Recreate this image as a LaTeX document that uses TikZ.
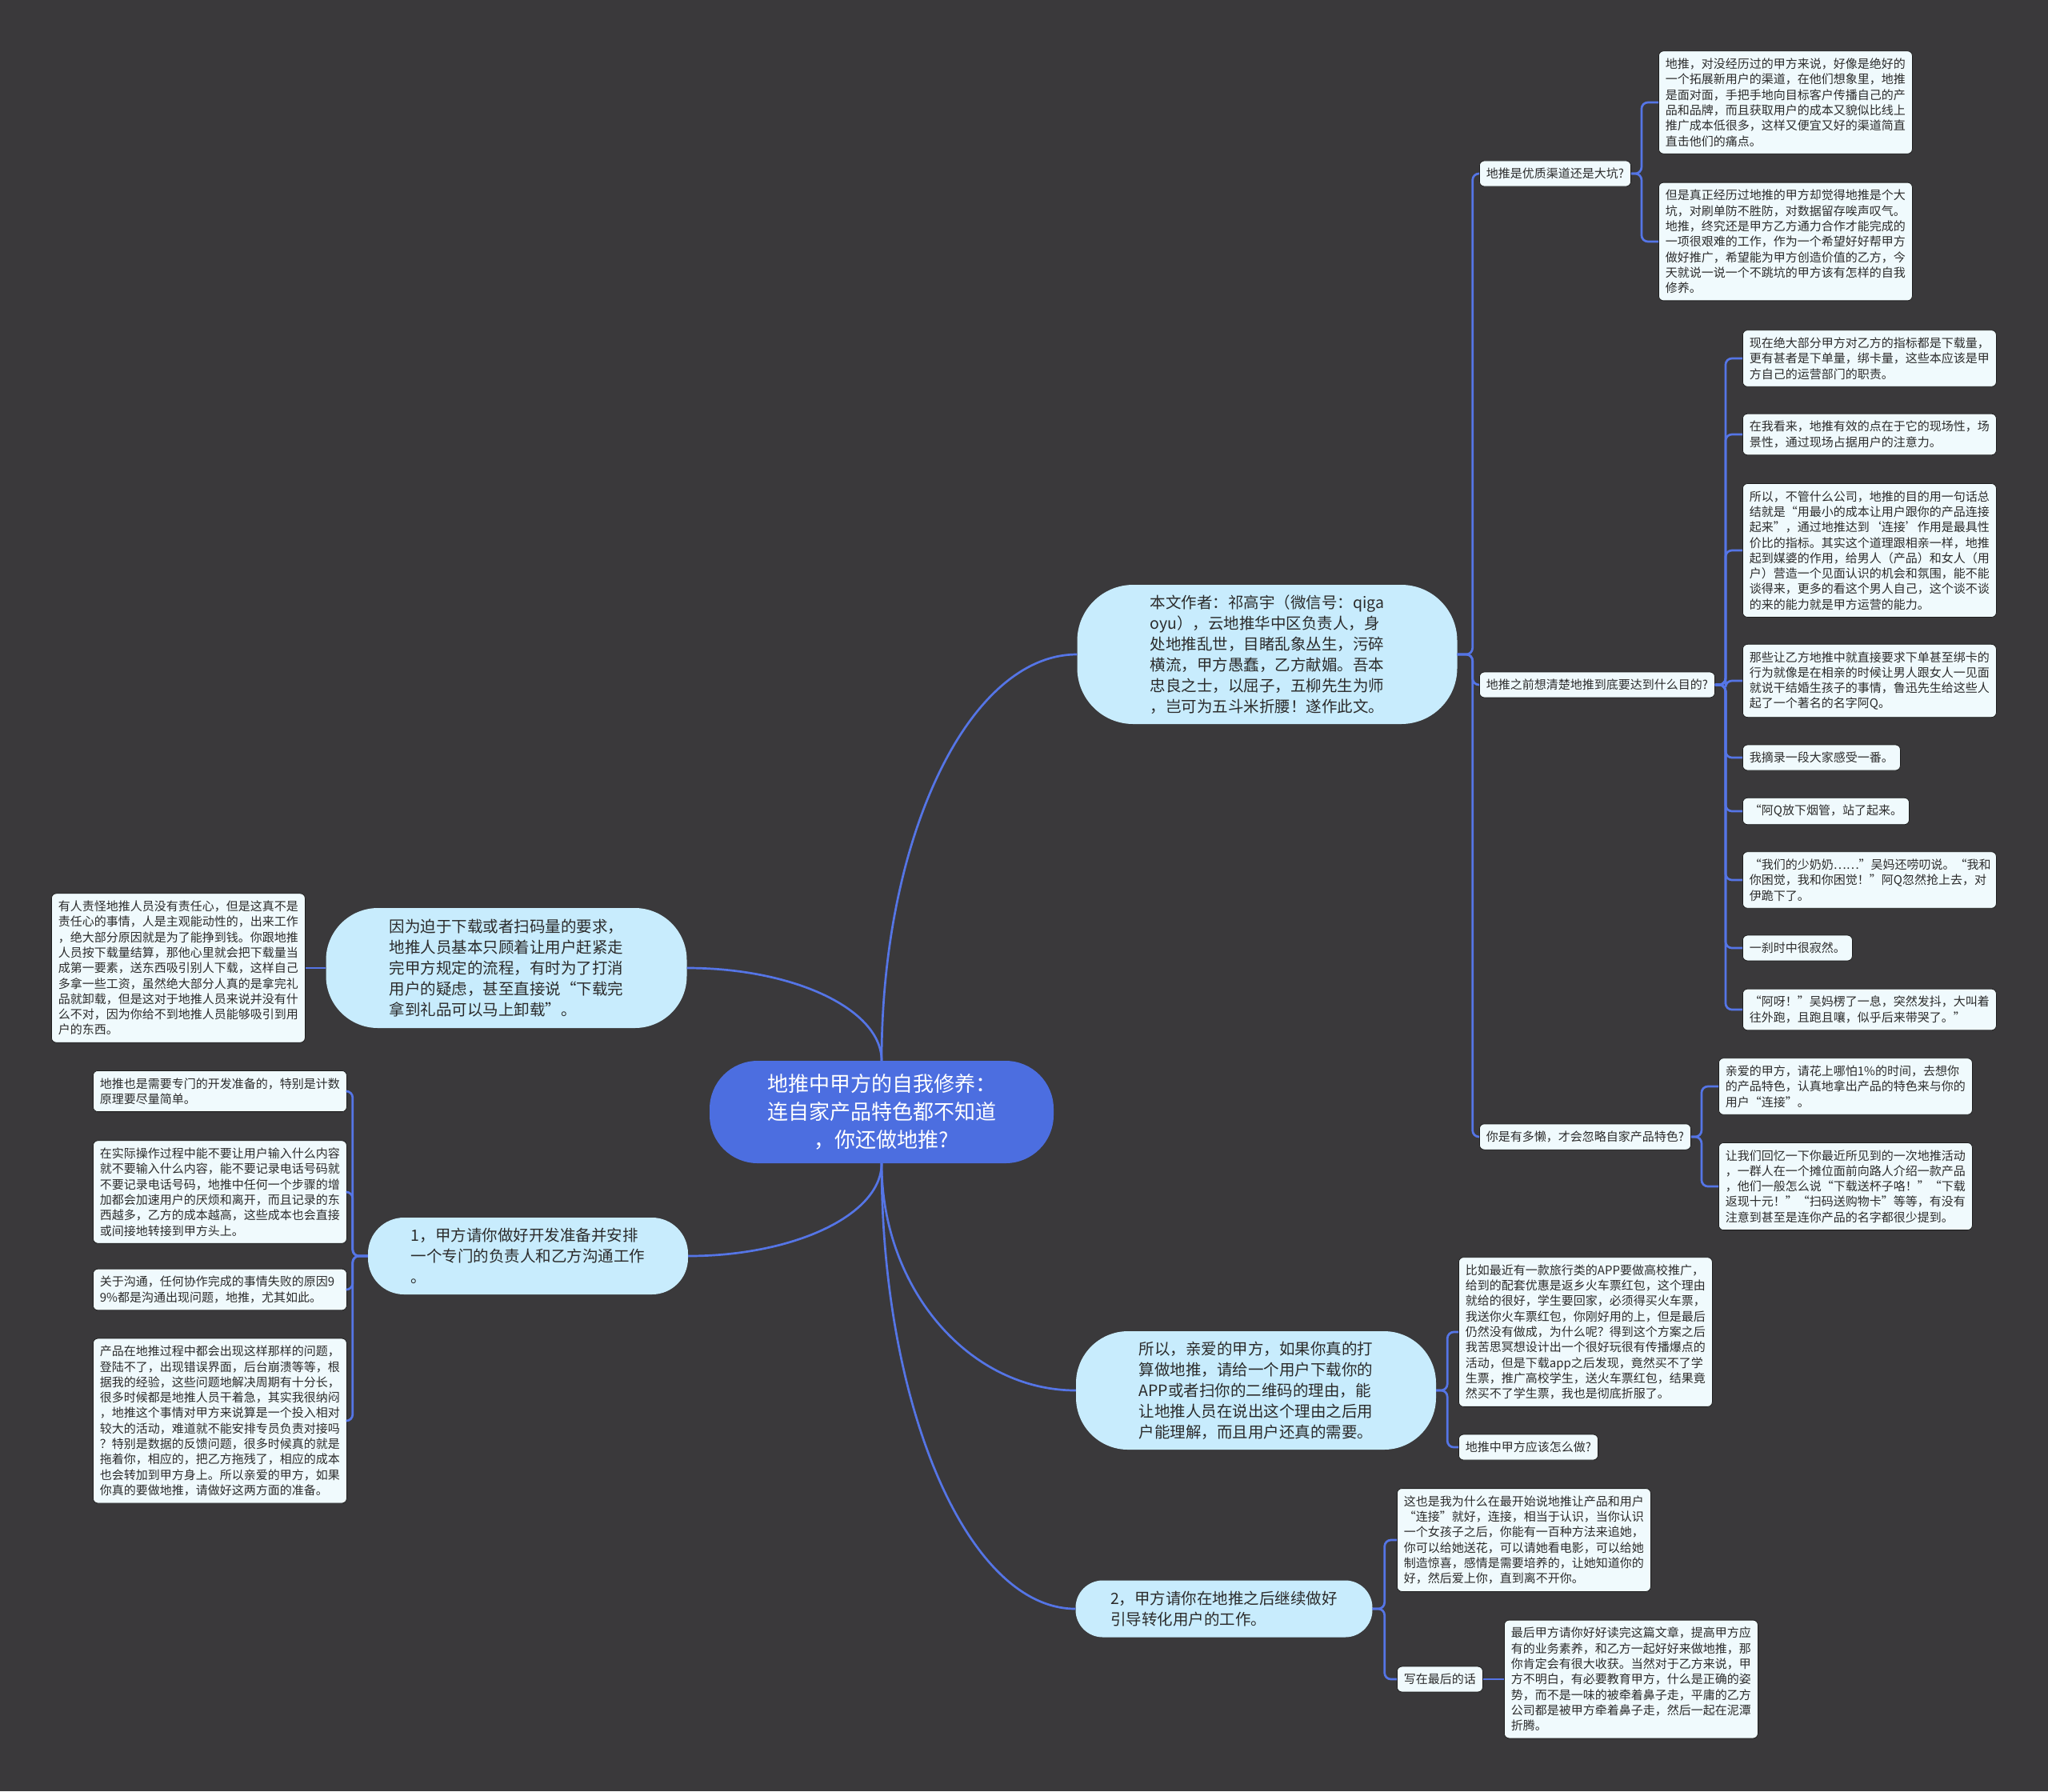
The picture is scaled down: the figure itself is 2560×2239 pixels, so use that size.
\documentclass[tikz,border=0pt]{standalone}
\usepackage{fontspec}
\setmainfont{Noto Sans CJK SC}

\definecolor{bgcol}{HTML}{3A393B}
\definecolor{linkcol}{HTML}{5575E6}
\definecolor{rootfill}{HTML}{4C6EE0}
\definecolor{pillfill}{HTML}{C8ECFD}
\definecolor{leaffill}{HTML}{F0FAFD}
\definecolor{leafline}{HTML}{1E1E1E}
\definecolor{inktext}{HTML}{2B2B2B}

\tikzset{
  link/.style={draw=linkcol, line width=2.7pt, rounded corners=8pt},
  root/.style={fill=rootfill, text=white, rounded corners=60pt, align=center,
    inner sep=0pt, minimum width=430pt, minimum height=128pt,
    font=\fontsize{26}{35}\selectfont},
  pill/.style={fill=pillfill, text=inktext, rounded corners=#1, align=left,
    inner sep=0pt, font=\fontsize{19.5}{26}\selectfont},
  leaf/.style={draw=leafline, line width=0.8pt, fill=leaffill, text=inktext,
    rounded corners=6pt, anchor=west, align=left, inner xsep=8.5pt,
    inner ysep=9pt, font=\fontsize{15}{19.3}\selectfont},
  wide/.style={leaf, text width=300pt},
}

\begin{document}
\begin{tikzpicture}[x=1pt, y=-1pt]
    \fill[bgcol] (0,0) rectangle (2560,2239);
    \useasboundingbox (0,0) rectangle (2560,2239);

    % Root
    \node[root] (root) at (1102,1390)
        {地推中甲方的自我修养：\\连自家产品特色都不知道\\，你还做地推?};

    % Main branches
    \node[pill=70pt, minimum width=475pt, minimum height=174pt] (intro) at (1584,818)
        {本文作者：祁高宇（微信号：qiga\\oyu），云地推华中区负责人，身\\处地推乱世，目睹乱象丛生，污碎\\横流，甲方愚蠢，乙方献媚。吾本\\忠良之士，以屈子，五柳先生为师\\，岂可为五斗米折腰！遂作此文。};
    \node[pill=65pt, minimum width=451pt, minimum height=150pt] (reason) at (633,1210)
        {因为迫于下载或者扫码量的要求，\\地推人员基本只顾着让用户赶紧走\\完甲方规定的流程，有时为了打消\\用户的疑虑，甚至直接说“下载完\\拿到礼品可以马上卸载”。};
    \node[pill=45pt, minimum width=400pt, minimum height=96pt] (prep) at (660,1570)
        {1，甲方请你做好开发准备并安排\\一个专门的负责人和乙方沟通工作\\。};
    \node[pill=65pt, minimum width=450pt, minimum height=148pt] (clue) at (1570,1738)
        {所以，亲爱的甲方，如果你真的打\\算做地推，请给一个用户下载你的\\APP或者扫你的二维码的理由，能\\让地推人员在说出这个理由之后用\\户能理解，而且用户还真的需要。};
    \node[pill=34pt, minimum width=371pt, minimum height=71pt] (follow) at (1530,2011)
        {2，甲方请你在地推之后继续做好\\引导转化用户的工作。};

    % Questions
    \node[leaf] (q1) at (1849,217) {地推是优质渠道还是大坑?};
    \node[leaf] (q2) at (1849,856) {地推之前想清楚地推到底要达到什么目的?};
    \node[leaf] (q3) at (1849,1421) {你是有多懒，才会忽略自家产品特色?};

    % Leaves of q1
    \node[wide] (t1) at (2073,128)
        {地推，对没经历过的甲方来说，好像是绝好的\\一个拓展新用户的渠道，在他们想象里，地推\\是面对面，手把手地向目标客户传播自己的产\\品和品牌，而且获取用户的成本又貌似比线上\\推广成本低很多，这样又便宜又好的渠道简直\\直击他们的痛点。};
    \node[wide] (t2) at (2073,302)
        {但是真正经历过地推的甲方却觉得地推是个大\\坑，对刷单防不胜防，对数据留存唉声叹气。\\地推，终究还是甲方乙方通力合作才能完成的\\一项很艰难的工作，作为一个希望好好帮甲方\\做好推广，希望能为甲方创造价值的乙方，今\\天就说一说一个不跳坑的甲方该有怎样的自我\\修养。};

    % Leaves of q2
    \node[wide] (b1) at (2178,448)
        {现在绝大部分甲方对乙方的指标都是下载量，\\更有甚者是下单量，绑卡量，这些本应该是甲\\方自己的运营部门的职责。};
    \node[wide] (b2) at (2178,543)
        {在我看来，地推有效的点在于它的现场性，场\\景性，通过现场占据用户的注意力。};
    \node[wide] (b3) at (2178,688)
        {所以，不管什么公司，地推的目的用一句话总\\结就是“用最小的成本让用户跟你的产品连接\\起来”，通过地推达到‘连接’作用是最具性\\价比的指标。其实这个道理跟相亲一样，地推\\起到媒婆的作用，给男人（产品）和女人（用\\户）营造一个见面认识的机会和氛围，能不能\\谈得来，更多的看这个男人自己，这个谈不谈\\的来的能力就是甲方运营的能力。};
    \node[wide] (b4) at (2178,851)
        {那些让乙方地推中就直接要求下单甚至绑卡的\\行为就像是在相亲的时候让男人跟女人一见面\\就说干结婚生孩子的事情，鲁迅先生给这些人\\起了一个著名的名字阿Q。};
    \node[leaf] (b5) at (2178,947) {我摘录一段大家感受一番。};
    \node[leaf] (b6) at (2178,1014) {“阿Q放下烟管，站了起来。};
    \node[wide] (b7) at (2178,1100)
        {“我们的少奶奶……”吴妈还唠叨说。“我和\\你困觉，我和你困觉！”阿Q忽然抢上去，对\\伊跪下了。};
    \node[leaf] (b8) at (2178,1185) {一刹时中很寂然。};
    \node[wide] (b9) at (2178,1262)
        {“阿呀！”吴妈楞了一息，突然发抖，大叫着\\往外跑，且跑且嚷，似乎后来带哭了。”};

    % Leaves of q3
    \node[wide] (c1) at (2148,1358)
        {亲爱的甲方，请花上哪怕1\%的时间，去想你\\的产品特色，认真地拿出产品的特色来与你的\\用户“连接”。};
    \node[wide] (c2) at (2148,1483)
        {让我们回忆一下你最近所见到的一次地推活动\\，一群人在一个摊位面前向路人介绍一款产品\\，他们一般怎么说“下载送杯子咯！”“下载\\返现十元！”“扫码送购物卡”等等，有没有\\注意到甚至是连你产品的名字都很少提到。};

    % Leaves of clue
    \node[wide] (d1) at (1823,1665)
        {比如最近有一款旅行类的APP要做高校推广，\\给到的配套优惠是返乡火车票红包，这个理由\\就给的很好，学生要回家，必须得买火车票，\\我送你火车票红包，你刚好用的上，但是最后\\仍然没有做成，为什么呢？得到这个方案之后\\我苦思冥想设计出一个很好玩很有传播爆点的\\活动，但是下载app之后发现，竟然买不了学\\生票，推广高校学生，送火车票红包，结果竟\\然买不了学生票，我也是彻底折服了。};
    \node[leaf] (d2) at (1823,1809) {地推中甲方应该怎么做?};

    % Leaves of follow
    \node[wide] (e1) at (1746,1925)
        {这也是我为什么在最开始说地推让产品和用户\\“连接”就好，连接，相当于认识，当你认识\\一个女孩子之后，你能有一百种方法来追她，\\你可以给她送花，可以请她看电影，可以给她\\制造惊喜，感情是需要培养的，让她知道你的\\好，然后爱上你，直到离不开你。};
    \node[leaf] (e2) at (1746,2099) {写在最后的话};
    \node[wide] (e3) at (1880,2099)
        {最后甲方请你好好读完这篇文章，提高甲方应\\有的业务素养，和乙方一起好好来做地推，那\\你肯定会有很大收获。当然对于乙方来说，甲\\方不明白，有必要教育甲方，什么是正确的姿\\势，而不是一味的被牵着鼻子走，平庸的乙方\\公司都是被甲方牵着鼻子走，然后一起在泥潭\\折腾。};

    % Left leaves
    \node[wide] (lb) at (64,1210)
        {有人责怪地推人员没有责任心，但是这真不是\\责任心的事情，人是主观能动性的，出来工作\\，绝大部分原因就是为了能挣到钱。你跟地推\\人员按下载量结算，那他心里就会把下载量当\\成第一要素，送东西吸引别人下载，这样自己\\多拿一些工资，虽然绝大部分人真的是拿完礼\\品就卸载，但是这对于地推人员来说并没有什\\么不对，因为你给不到地推人员能够吸引到用\\户的东西。};
    \node[wide] (l1) at (116,1364)
        {地推也是需要专门的开发准备的，特别是计数\\原理要尽量简单。};
    \node[wide] (l2) at (116,1490)
        {在实际操作过程中能不要让用户输入什么内容\\就不要输入什么内容，能不要记录电话号码就\\不要记录电话号码，地推中任何一个步骤的增\\加都会加速用户的厌烦和离开，而且记录的东\\西越多，乙方的成本越高，这些成本也会直接\\或间接地转接到甲方头上。};
    \node[wide] (l3) at (116,1612)
        {关于沟通，任何协作完成的事情失败的原因9\\9\%都是沟通出现问题，地推，尤其如此。};
    \node[wide] (l4) at (116,1776)
        {产品在地推过程中都会出现这样那样的问题，\\登陆不了，出现错误界面，后台崩溃等等，根\\据我的经验，这些问题地解决周期有十分长，\\很多时候都是地推人员干着急，其实我很纳闷\\，地推这个事情对甲方来说算是一个投入相对\\较大的活动，难道就不能安排专员负责对接吗\\？特别是数据的反馈问题，很多时候真的就是\\拖着你，相应的，把乙方拖残了，相应的成本\\也会转加到甲方身上。所以亲爱的甲方，如果\\你真的要做地推，请做好这两方面的准备。};

    % Curves from the root
    \draw[link] (root.north) .. controls +(0,-280) and +(-135,0) .. (intro.west);
    \draw[link] (root.north) .. controls +(0,-64) and +(134,0) .. (reason.east);
    \draw[link] (root.south) .. controls +(0,64) and +(133,0) .. (prep.east);
    \draw[link] (root.south) .. controls +(0,156) and +(-134,0) .. (clue.west);
    \draw[link] (root.south) .. controls +(0,306) and +(-134,0) .. (follow.west);

    % Brackets
    \foreach \k in {q1,q2,q3}
      \draw[link] (intro.east) -- ++(19,0) |- (\k.west);
    \foreach \k in {t1,t2}
      \draw[link] (q1.east) -- ++(13,0) |- (\k.west);
    \foreach \k in {b1,b2,b3,b4,b5,b6,b7,b8,b9}
      \draw[link] (q2.east) -- ++(13,0) |- (\k.west);
    \foreach \k in {c1,c2}
      \draw[link] (q3.east) -- ++(13,0) |- (\k.west);
    \foreach \k in {d1,d2}
      \draw[link] (clue.east) -- ++(14,0) |- (\k.west);
    \foreach \k in {e1,e2}
      \draw[link] (follow.east) -- ++(15,0) |- (\k.west);
    \draw[link] (e2.east) -- (e3.west);
    \draw[link] (reason.west) -- (lb.east);
    \foreach \k in {l1,l2,l3,l4}
      \draw[link] (prep.west) -- ++(-19,0) |- (\k.east);
\end{tikzpicture}
\end{document}
